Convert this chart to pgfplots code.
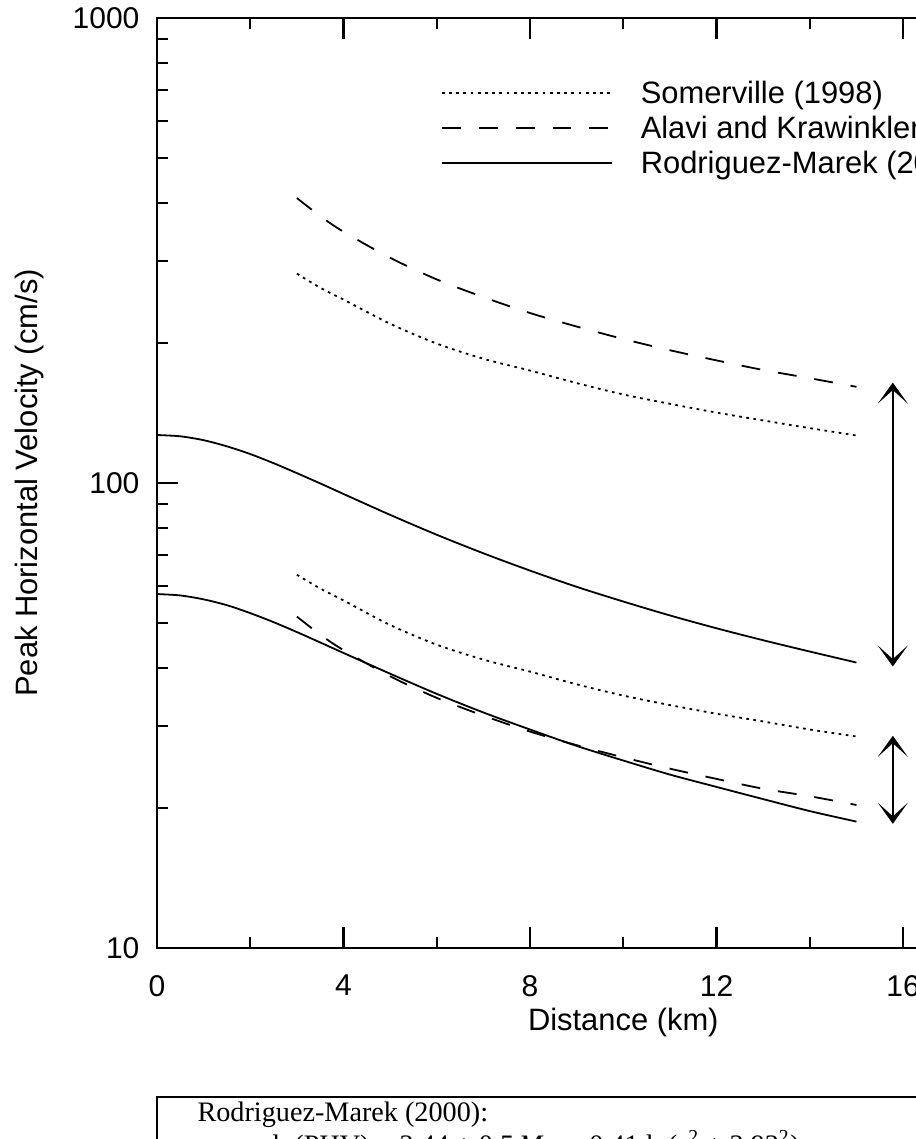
\documentclass[border=0pt]{standalone}
\usepackage{fontspec}
\setmainfont{Liberation Sans}
\newfontfamily\seriffont{Liberation Serif}
\usepackage{pgfplots}
\usepackage{pgfplotstable}
\pgfplotsset{compat=1.18}
\usetikzlibrary{arrows.meta}

% Somerville (1998)
\pgfplotstableread{
x y
3 282
3.5 263
4 248
5 220
6 199.5
7 185
8 174.5
9 164
10 155
11 148
12 141.7
13 136.3
14 131.2
15 126.5
}\somup
\pgfplotstableread{
x y
3 63.5
3.5 59.3
4 55.9
5 49.5
6 44.9
7 41.7
8 39.3
9 36.9
10 34.9
11 33.3
12 31.9
13 30.7
14 29.5
15 28.5
}\somlo
% Alavi and Krawinkler
\pgfplotstableread{
x y
3 410
3.5 375
4 347
5 305
6 274
7 251
8 232
9 217
10 204
11 193
12 183.5
13 175
14 168
15 161
}\alaup
\pgfplotstableread{
x y
3 51.6
3.5 47.2
4 43.7
5 38.4
6 34.5
7 31.6
8 29.2
9 27.3
10 25.7
11 24.3
12 23.1
13 22.0
14 21.2
15 20.3
}\alalo
% Rodriguez-Marek (2000)
\pgfplotstableread{
x y
0 126.8
0.5 126.0
1 123.6
1.5 119.9
2 115.4
2.5 110.3
3 105.0
3.5 99.8
4 94.7
5 85.4
6 77.4
7 70.6
8 64.8
9 59.8
10 55.6
11 51.9
12 48.7
13 45.9
14 43.4
15 41.1
}\rmup
\pgfplotstableread{
x y
0 57.7
0.5 57.3
1 56.2
1.5 54.6
2 52.5
2.5 50.2
3 47.8
3.5 45.4
4 43.1
5 38.9
6 35.2
7 32.1
8 29.5
9 27.2
10 25.3
11 23.6
12 22.2
13 20.9
14 19.7
15 18.7
}\rmlo

\begin{document}
\begin{tikzpicture}
\path[use as bounding box] (-52.33pt,-63.67pt) rectangle (253pt,316pt);
\clip (-52.33pt,-63.67pt) rectangle (253pt,316pt);
\begin{axis}[
  at={(0pt,0pt)}, anchor=south west,
  scale only axis, width=310.87pt, height=310pt,
  xmin=0, xmax=20, ymode=log, ymin=10, ymax=1000,
  xtick={0,4,8,12,16,20}, minor xtick={2,6,10,14,18},
  ytick={10,100,1000}, yticklabels={10,100,1000},
  minor ytick={20,30,40,50,60,70,80,90,200,300,400,500,600,700,800,900},
  /pgf/number format/assume math mode=true,
  major tick length=7pt, minor tick length=3.67pt,
  every tick/.style={black, line width=0.8pt},
  axis line style={line width=0.9pt},
  tick label style={font=\fontsize{10}{12}\selectfont},
  xticklabel style={yshift=-5.5pt},
  yticklabel style={xshift=-2.33pt},
  xlabel={Distance (km)},
  ylabel={Peak Horizontal Velocity (cm/s)},
  label style={font=\fontsize{10.3}{12}\selectfont},
  xlabel style={at={(axis description cs:0.5,0)}, anchor=base, yshift=-27.67pt},
  ylabel style={at={(axis description cs:-0.1276,0.5)}, anchor=base},
  legend style={at={(0.3045,0.9336)}, anchor=north west, draw=none, fill=none,
    inner sep=0pt, outer sep=0pt, row sep=2.67pt, column sep=9.33pt,
    nodes={inner sep=0pt, text height=8pt, text depth=1pt, font=\fontsize{10.3}{12}\selectfont}},
  legend cell align=left,
  legend image code/.code={\draw[#1] (0pt,0pt) -- (56.67pt,0pt);},
  every axis plot/.append style={line width=0.6pt, black},
]
\addplot[dash pattern=on 0.9pt off 1.5pt, smooth] table {\somup};
\addlegendentry{Somerville (1998)}
\addplot[dash pattern=on 6.3pt off 6pt, smooth] table {\alaup};
\addlegendentry{Alavi and Krawinkler (2001)}
\addplot[solid, smooth] table {\rmup};
\addlegendentry{Rodriguez-Marek (2000)}
\addplot[dash pattern=on 0.9pt off 1.5pt, smooth, forget plot] table {\somlo};
\addplot[dash pattern=on 6.3pt off 6pt, smooth, forget plot] table {\alalo};
\addplot[solid, smooth, forget plot] table {\rmlo};
\draw[line width=0.75pt, {Stealth[length=7pt,width=10pt,inset=4.5pt]}-{Stealth[length=7pt,width=10pt,inset=4.5pt]}]
  (axis cs:15.78,164.4) -- (axis cs:15.78,40.3);
\draw[line width=0.75pt, {Stealth[length=7pt,width=10pt,inset=4.5pt]}-{Stealth[length=7pt,width=10pt,inset=4.5pt]}]
  (axis cs:15.78,28.6) -- (axis cs:15.78,18.5);
\end{axis}
\draw[line width=0.5pt] (0pt,-49.67pt) rectangle (400pt,-120pt);
\node[anchor=base west, inner sep=0pt, font=\seriffont\fontsize{9.4}{11}\selectfont] at (13.33pt,-58pt) {Rodriguez-Marek (2000):};
\node[anchor=base west, inner sep=0pt, font=\seriffont\fontsize{9.4}{11}\selectfont] at (38.3pt,-69pt)
  {ln(PHV) = 2.44 + 0.5\,\textit{M}\textsubscript{w} − 0.41 ln(\textit{r}\textsuperscript{2} + 3.93\textsuperscript{2})};
\end{tikzpicture}
\end{document}
